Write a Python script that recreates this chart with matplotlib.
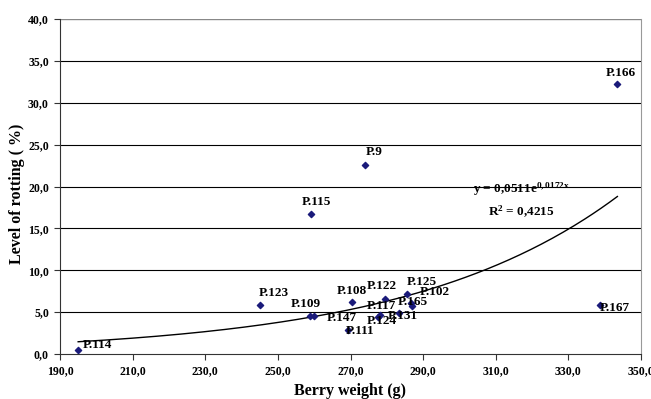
import matplotlib.pyplot as plt
import numpy as np

plt.rcParams['font.family'] = ['Liberation Serif', 'DejaVu Serif']
plt.rcParams['font.weight'] = 'bold'
plt.rcParams['mathtext.fontset'] = 'custom'
plt.rcParams['mathtext.rm'] = 'Liberation Serif:bold'
plt.rcParams['mathtext.bf'] = 'Liberation Serif:bold'
plt.rcParams['mathtext.it'] = 'Liberation Serif:bold'

# data
names = ['P.114', 'P.123', 'P.109', 'P.147', 'P.108', 'P.111', 'P.122', 'P.117',
         'P.124', 'P.131', 'P.125', 'P.165', 'P.102', 'P.9', 'P.115', 'P.166', 'P.167']
weight = [194.9, 245.1, 258.8, 259.9, 270.5, 269.3, 279.6, 278.2,
          277.7, 283.4, 285.6, 287.0, 286.6, 274.1, 259.2, 343.4, 338.6]
rotting = [0.5, 5.8, 4.5, 4.5, 6.2, 2.9, 6.6, 4.6,
           4.4, 4.9, 7.2, 5.7, 6.1, 22.6, 16.7, 32.2, 5.8]
# label anchor (left, vertical centre) in data units
label_x = [196.3, 244.6, 253.5, 263.4, 266.2, 268.7, 274.6, 274.6,
           274.4, 280.2, 285.6, 283.0, 289.1, 274.1, 256.5, 340.2, 338.6]
label_y = [1.1, 7.3, 6.0, 4.3, 7.5, 2.7, 8.1, 5.7,
           3.9, 4.5, 8.6, 6.2, 7.4, 24.1, 18.1, 33.5, 5.5]

a_coef, b_coef = 0.0511, 0.0172
r2 = '0,4215'

fig = plt.figure(figsize=(6.51, 3.99), dpi=100)
ax = fig.add_axes([60 / 651, 45 / 399, 581 / 651, 335 / 399])

for yv in np.arange(5, 40, 5):
    ax.axhline(yv, color='black', lw=0.8, zorder=1)
ax.axhline(40, color='#888888', lw=1.0, zorder=1)

xs = np.linspace(195, 343.5, 200)
ax.plot(xs, a_coef * np.exp(b_coef * xs), color='black', lw=1.0, zorder=2)

ax.scatter(weight, rotting, marker='D', s=10, color='#1a1a7a', zorder=3)

for n, lx, ly in zip(names, label_x, label_y):
    ax.text(lx, ly, n, fontsize=9.5, fontweight='bold', ha='left', va='center', zorder=4)

ax.text(317, 19.7, r'y = 0,0511e$^{0,0172x}$', fontsize=9.5, ha='center', va='center')
ax.text(317, 17.0, r'R$^{2}$ = ' + r2, fontsize=9.5, ha='center', va='center')

ax.set_xlim(190, 350)
ax.set_ylim(0, 40)
ax.set_xticks(np.arange(190, 351, 20))
ax.set_yticks(np.arange(0, 41, 5))
ax.set_xticklabels([f'{v:.1f}'.replace('.', ',') for v in np.arange(190, 351, 20)])
ax.set_yticklabels([f'{v:.1f}'.replace('.', ',') for v in np.arange(0, 41, 5)])
ax.tick_params(labelsize=8.5, length=4, width=0.8, color='#333333')
ax.tick_params(axis='x', pad=4)
ax.tick_params(axis='y', pad=4)

ax.spines['top'].set_visible(False)
ax.spines['right'].set_color('#999999')
ax.spines['left'].set_color('#333333')
ax.spines['bottom'].set_color('#333333')

ax.set_xlabel('Berry weight (g)', fontsize=11.5, fontweight='bold')
ax.set_ylabel('Level of rotting ( %)', fontsize=11.5, fontweight='bold')
ax.xaxis.set_label_coords(0.499, -0.088)
ax.yaxis.set_label_coords(-0.060, 0.478)

fig.savefig('out.png', dpi=100)
